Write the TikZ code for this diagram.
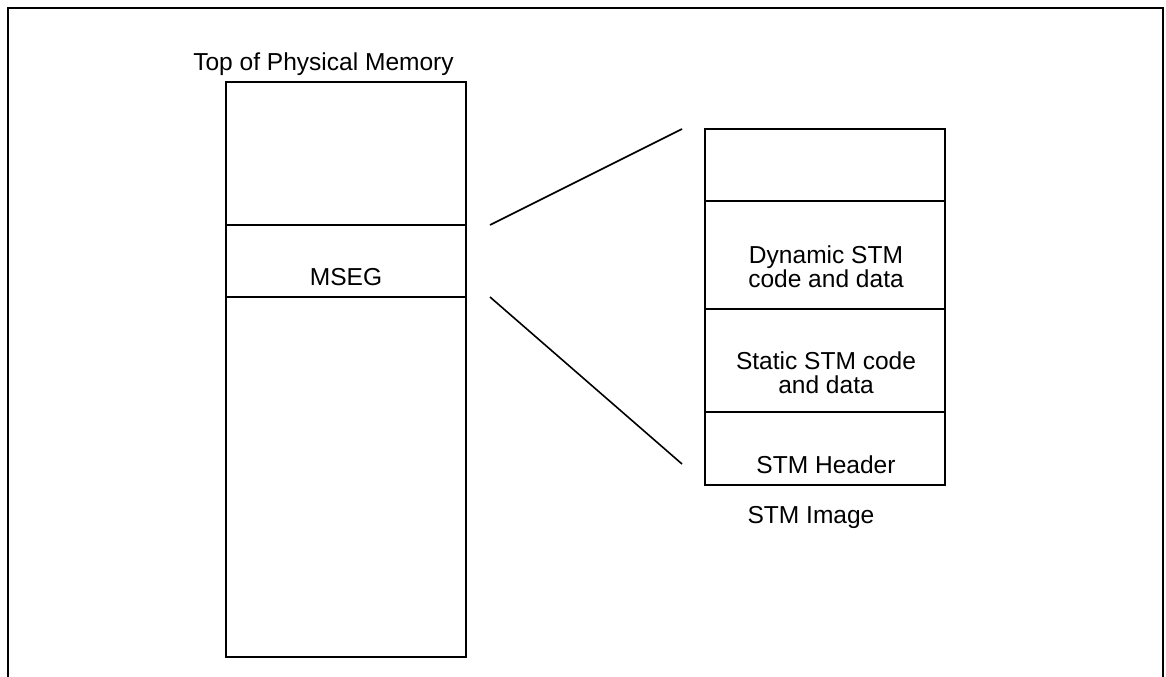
\documentclass[tikz,border=0pt]{standalone}
\usepackage{fontspec}
\setmainfont{Liberation Sans}
\begin{document}
\begin{tikzpicture}[x=0.75pt,y=-0.75pt,
  line width=1.5pt,
  cell/.style={draw,rectangle,inner sep=0pt,minimum width=180pt},
  lbl/.style={anchor=base,inner sep=0pt,align=center,font=\fontsize{18.4}{19.5}\selectfont}]
\useasboundingbox (0,0) rectangle (1166,677);
% outer frame (open at the bottom)
\draw (8,680) -- (8,8) -- (1163,8) -- (1163,680);
% physical memory column
\node[cell,minimum height=431.25pt] (mem) at (346,369.5) {};
\node[cell,minimum height=54pt] (mseg) at (346,261) {};
\node[lbl] (toplbl) at (323.5,71) {Top of Physical Memory};
\node[lbl] (mseglbl) at (346,285) {MSEG};
% STM image column
\node[cell,minimum height=54pt] (free) at (825,165) {};
\node[cell,minimum height=81pt] (dyn) at (825,255) {};
\node[cell,minimum height=77.25pt] (stat) at (825,360.5) {};
\node[cell,minimum height=54.75pt] (hdr) at (825,448.5) {};
\node[lbl] (dynlbl) at (826,263) {Dynamic STM};
\node[lbl] (dynlbl2) at (826,287) {code and data};
\node[lbl] (statlbl) at (826,369) {Static STM code};
\node[lbl] (statlbl2) at (826,393) {and data};
\node[lbl] (hdrlbl) at (826,473) {STM Header};
\node[lbl] (imglbl) at (811,523) {STM Image};
% zoom lines
\coordinate (a1) at (490,225);
\coordinate (a2) at (682,129);
\coordinate (b1) at (490,297);
\coordinate (b2) at (682,464);
\draw[line width=1.2pt] (a1) -- (a2);
\draw[line width=1.2pt] (b1) -- (b2);
\end{tikzpicture}
\end{document}
